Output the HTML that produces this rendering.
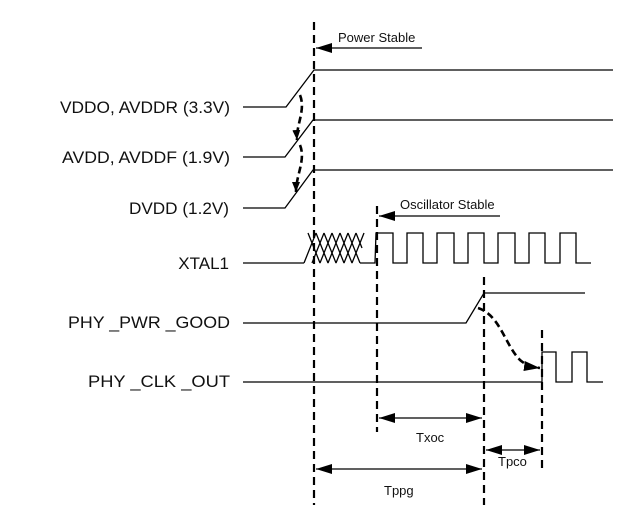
<!DOCTYPE html>
<html><head><meta charset="utf-8"><style>
html,body{margin:0;padding:0;background:#fff;}
svg{display:block;}
text{font-family:"Liberation Sans",sans-serif;fill:#111;}
</style></head><body>
<svg width="642" height="531" viewBox="0 0 642 531" xmlns="http://www.w3.org/2000/svg">
<defs>
<marker id="ah" markerWidth="10" markerHeight="8" refX="10" refY="4" orient="auto" markerUnits="userSpaceOnUse">
<path d="M0,0 L10,4 L0,8 z" fill="#000"/>
</marker>
<marker id="ahb" markerWidth="16" markerHeight="10" refX="16" refY="5" orient="auto-start-reverse" markerUnits="userSpaceOnUse">
<path d="M0,0 L16,5 L0,10 z" fill="#000"/>
</marker>
</defs>
<g font-size="17" text-anchor="end">
<text x="230" y="113" textLength="170" lengthAdjust="spacingAndGlyphs">VDDO, AVDDR (3.3V)</text>
<text x="230" y="163" textLength="168" lengthAdjust="spacingAndGlyphs">AVDD, AVDDF (1.9V)</text>
<text x="229" y="214" textLength="100" lengthAdjust="spacingAndGlyphs">DVDD (1.2V)</text>
<text x="229" y="269">XTAL1</text>
<text x="230" y="328" textLength="162" lengthAdjust="spacingAndGlyphs">PHY _PWR _GOOD</text>
<text x="230" y="387" textLength="142" lengthAdjust="spacingAndGlyphs">PHY _CLK _OUT</text>
</g>
<g font-size="13">
<text x="338" y="42">Power Stable</text>
<text x="400" y="209">Oscillator Stable</text>
<text x="416" y="442">Txoc</text>
<text x="498" y="466">Tpco</text>
<text x="384" y="495">Tppg</text>
</g>
<g stroke="#000" stroke-width="1.3" fill="none">
<polyline points="243,107 286,107 314,70 613,70"/>
<polyline points="243,157 285,157 313,120 613,120"/>
<polyline points="243,208 285,208 313,170 613,170"/>
<polyline points="243,263 304,263"/>
<path d="M304,263 L316,233 M308,233 L320,263 M312,263 L324,233 M316,233 L328,263 M320,263 L332,233 M324,233 L336,263 M328,263 L340,233 M332,233 L344,263 M336,263 L348,233 M340,233 L352,263 M344,263 L356,233 M348,233 L360,263 M352,263 L364,233 M356,233 L362,248"/>
<polyline points="360,263 375,263 376,233 393,233 393,263 407,263 407,233 423,233 423,263 437,263 437,233 454,233 454,263 468,263 468,233 484,233 484,263 498,263 498,233 515,233 515,263 529,263 529,233 545,233 545,263 560,263 560,233 576,233 576,263 591,263"/>
<polyline points="243,323 466,323 484,293 585,293"/>
<polyline points="243,382 542,382 542,352 556,352 556,382 572,382 572,352 587,352 587,382 603,382"/>
</g>
<g stroke="#000" stroke-width="2.2" stroke-dasharray="8,5" fill="none">
<line x1="314" y1="22" x2="314" y2="505"/>
<line x1="377" y1="206" x2="377" y2="432"/>
<line x1="484" y1="277" x2="484" y2="505"/>
<line x1="542" y1="330" x2="542" y2="472"/>
</g>
<g stroke="#000" stroke-width="2.6" stroke-dasharray="7,4" fill="none">
<path d="M300,95 C306,110 296,125 297,140" marker-end="url(#ah)"/>
<path d="M300,145 C306,160 296,175 296,192" marker-end="url(#ah)"/>
<path d="M478,308 C500,315 505,345 520,360 C527,366 532,367 540,368" marker-end="url(#ahb)"/>
</g>
<g stroke="#000" stroke-width="1.3" fill="none">
<line x1="422" y1="48" x2="316" y2="48" marker-end="url(#ahb)"/>
<line x1="500" y1="216" x2="379" y2="216" marker-end="url(#ahb)"/>
<line x1="379" y1="418" x2="482" y2="418" marker-start="url(#ahb)" marker-end="url(#ahb)"/>
<line x1="486" y1="450" x2="540" y2="450" marker-start="url(#ahb)" marker-end="url(#ahb)"/>
<line x1="316" y1="469" x2="482" y2="469" marker-start="url(#ahb)" marker-end="url(#ahb)"/>
</g>
</svg>
</body></html>
